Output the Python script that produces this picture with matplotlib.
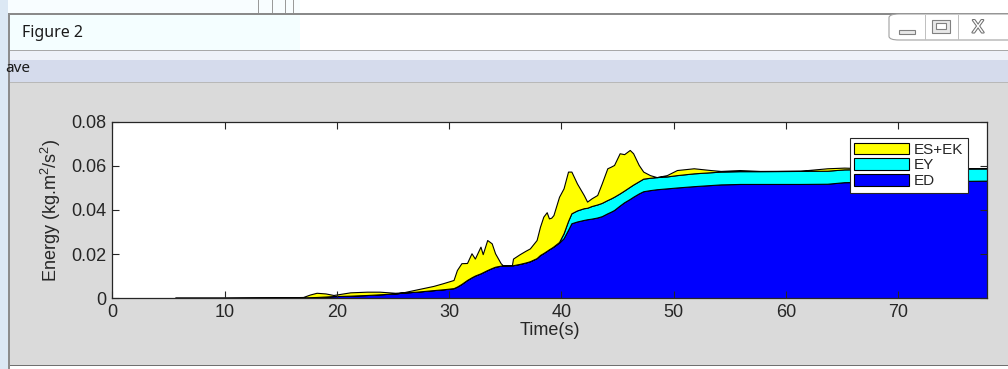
import matplotlib
matplotlib.use("Agg")
import matplotlib.pyplot as plt
import matplotlib.patheffects as pe
from matplotlib.patches import Rectangle, FancyBboxPatch

plt.rcParams['font.family'] = ['Liberation Sans', 'DejaVu Sans']
plt.rcParams['mathtext.default'] = 'regular'

W, H = 1008, 369

# energy components (stacked), time in seconds
t = [5.6, 10, 15, 17, 17.6, 18.2, 19.0, 19.7, 21.2, 22.7,
     23.8, 25.2, 25.9, 27.1, 28.6, 29.5, 30.4, 30.7, 31.1, 31.6,
     32.0, 32.3, 32.8, 33.0, 33.4, 33.8, 34.1, 34.6, 34.8, 35.6,
     35.7, 36.3, 36.8, 37.2, 37.8, 38.1, 38.4, 38.7, 38.9, 39.1,
     39.3, 39.8, 40.2, 40.6, 40.9, 41.4, 42.0, 42.3, 42.7, 43.2,
     43.6, 44.1, 44.4, 44.7, 45.2, 45.6, 46.1, 46.4, 46.9, 47.3,
     47.9, 48.5, 49.4, 50.3, 51.8, 53.3, 54.2, 55.9, 57.7, 61.3,
     63.7, 65.2, 68, 72, 78]

ed = [0.0002, 0.0002, 0.0003, 0.0004, 0.0005, 0.0006, 0.0008, 0.0010, 0.0012, 0.0015,
      0.0018, 0.0022, 0.0026, 0.0030, 0.0037, 0.0041, 0.0046, 0.0053, 0.0065, 0.0083,
      0.0095, 0.0103, 0.0113, 0.0118, 0.0128, 0.0137, 0.0143, 0.0148, 0.0149, 0.0150,
      0.0150, 0.0156, 0.0162, 0.0168, 0.0182, 0.0196, 0.0205, 0.0215, 0.0222, 0.0228,
      0.0234, 0.0252, 0.0272, 0.0310, 0.0340, 0.0348, 0.0355, 0.0358, 0.0361, 0.0366,
      0.0372, 0.0385, 0.0392, 0.0400, 0.0420, 0.0435, 0.0450, 0.0460, 0.0475, 0.0485,
      0.0490, 0.0494, 0.0498, 0.0502, 0.0508, 0.0513, 0.0516, 0.0518, 0.0518, 0.0518,
      0.0519, 0.0526, 0.0528, 0.0530, 0.0533]

ey = [0, 0, 0, 0, 0, 0, 0, 0, 0, 0,
      0, 0, 0, 0, 0, 0, 0, 0, 0, 0,
      0, 0, 0, 0, 0, 0, 0, 0, 0, 0,
      0, 0, 0, 0, 0, 0, 0, 0, 0, 0,
      0.0001, 0.0003, 0.0022, 0.0040, 0.0045, 0.0050, 0.0053, 0.0052, 0.0057, 0.0059,
      0.0060, 0.0060, 0.0060, 0.0060, 0.0055, 0.0053, 0.0055, 0.0055, 0.0055, 0.0057,
      0.0056, 0.0055, 0.0054, 0.0056, 0.0058, 0.0058, 0.0058, 0.0058, 0.0058, 0.0059,
      0.0059, 0.0058, 0.0058, 0.0058, 0.0056]

es_ek = [0, 0, 0.0001, 0.0002, 0.0012, 0.0019, 0.0014, 0.0005, 0.0015, 0.0015,
         0.0012, 0.0003, 0.0001, 0.0010, 0.0019, 0.0028, 0.0037, 0.0075, 0.0094, 0.0077,
         0.0109, 0.0077, 0.0121, 0.0082, 0.0136, 0.0112, 0.0061, 0.0011, 0.0, 0.0,
         0.0030, 0.0044, 0.0053, 0.0058, 0.0082, 0.0128, 0.0165, 0.0175, 0.0140, 0.0137,
         0.0142, 0.0205, 0.0204, 0.0224, 0.0189, 0.0122, 0.0060, 0.0028, 0.0035, 0.0043,
         0.0088, 0.0144, 0.0144, 0.0144, 0.0182, 0.0165, 0.0167, 0.0142, 0.0074, 0.0032,
         0.0012, 0.0, 0.0006, 0.0023, 0.0023, 0.0010, 0.0003, 0.0005, 0.0001, 0.0001,
         0.0011, 0.0008, 0.0002, 0, 0]

labels = ['ED', 'EY', 'ES+EK']
colors = ['#0000ff', '#00ffff', '#ffff00']
xticks = [0, 10, 20, 30, 40, 50, 60, 70]
yticks = [0, 0.02, 0.04, 0.06, 0.08]
ytick_labels = ['0', '0.02', '0.04', '0.06', '0.08']


def box(x0, y0, x1, y1, **kw):
    # rectangle given in screen pixels (origin top-left)
    fig.patches.append(Rectangle((x0 / W, 1 - y1 / H), (x1 - x0) / W, (y1 - y0) / H,
                                 transform=fig.transFigure, figure=fig, **kw))


fig = plt.figure(figsize=(W / 100, H / 100), dpi=100, facecolor='#dadada')

# window frame around the figure
box(0, 0, W, 14, facecolor='#ffffff', edgecolor='none')
box(0, 0, 300, 14, facecolor='#f8fdff', edgecolor='none')
box(0, 13, W, 15, facecolor='#8a8a8a', edgecolor='none')
for xv in (258, 272, 285, 293):
    box(xv, 0, xv + 1, 13, facecolor='#9a9a9a', edgecolor='none')
box(0, 15, W, 50, facecolor='#ffffff', edgecolor='none')
box(0, 15, 300, 50, facecolor='#f4feff', edgecolor='none')
box(0, 50, W, 51, facecolor='#a8a8a8', edgecolor='none')
box(0, 51, W, 60, facecolor='#eef1f8', edgecolor='none')
box(0, 60, W, 82, facecolor='#d5dbec', edgecolor='none')
box(0, 82, W, 83, facecolor='#b8b8b8', edgecolor='none')
box(0, 365, W, 366, facecolor='#707070', edgecolor='none')
box(0, 366, W, H, facecolor='#ffffff', edgecolor='none')
box(0, 0, 8, H, facecolor='#dce8f4', edgecolor='none')
box(8, 14, 10, H, facecolor='#8c8c8c', edgecolor='none')
fig.patches.append(FancyBboxPatch((889 / W, 1 - 40 / H), 130 / W, 26 / H,
                                  boxstyle='round,pad=0,rounding_size=0.01',
                                  transform=fig.transFigure, figure=fig,
                                  facecolor='#ffffff', edgecolor='#a0a0a0', lw=0.8))
box(925, 15, 926, 40, facecolor='#c0c0c0', edgecolor='none')
box(958, 15, 959, 40, facecolor='#c0c0c0', edgecolor='none')
box(899, 30, 915, 34, facecolor='#e8e8e8', edgecolor='#808080', lw=0.8)
box(932, 20, 950, 33, facecolor='#e8e8e8', edgecolor='#808080', lw=0.8)
box(936, 23, 946, 29, facecolor='#ffffff', edgecolor='#808080', lw=0.8)
fig.text(978 / W, 1 - 28 / H, 'X', fontsize=13, color='#ffffff', ha='center', va='center',
         path_effects=[pe.withStroke(linewidth=1.5, foreground='#707070')])
fig.text(22 / W, 1 - 33 / H, 'Figure 2', fontsize=11.5, color='#1a1a1a', va='center',
         family=['Noto Sans', 'DejaVu Sans'])
fig.text(5 / W, 1 - 68 / H, 'ave', fontsize=11, color='#1a1a1a', va='center',
         family=['Noto Sans', 'DejaVu Sans'])

ax = fig.add_axes([112.3 / W, 1 - 298.3 / H, 874.4 / W, 176.6 / H])
polys = ax.stackplot(t, ed, ey, es_ek, labels=labels, colors=colors,
                     edgecolor='black', linewidth=0.8)

ax.set_xlim(0, 77.9)
ax.set_ylim(0, 0.08)
ax.set_xticks(xticks)
ax.set_yticks(yticks)
ax.set_yticklabels(ytick_labels)
ax.tick_params(direction='in', length=5, width=0.8, top=True, right=True,
               labelsize=13, colors='#262626', pad=4)
for s in ax.spines.values():
    s.set_color('#262626')
    s.set_linewidth(0.9)
ax.set_xlabel('Time(s)', fontsize=13, color='#262626', labelpad=1)
ax.set_ylabel('Energy (kg.m$^2$/s$^2$)', fontsize=13, color='#262626', labelpad=6)

handles, labs = ax.get_legend_handles_labels()
leg = ax.legend(handles[::-1], labs[::-1], loc='upper right',
                bbox_to_anchor=(0.9786, 0.9077), fontsize=11, frameon=True,
                fancybox=False, framealpha=1, edgecolor='#262626',
                handlelength=3.6, handleheight=0.8, labelspacing=0.1,
                borderpad=0.3, handletextpad=0.3, borderaxespad=0)
leg.get_frame().set_linewidth(0.8)
for txt in leg.get_texts():
    txt.set_color('#262626')

fig.savefig('out.png', dpi=100, facecolor=fig.get_facecolor())
